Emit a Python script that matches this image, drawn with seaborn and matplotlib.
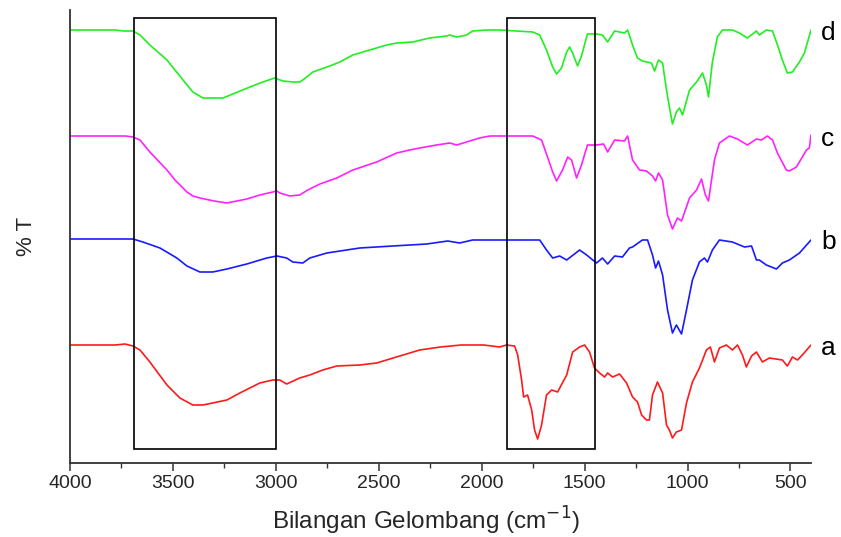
import numpy as np
import pandas as pd
import matplotlib
matplotlib.use("Agg")
import matplotlib.pyplot as plt
from matplotlib.patches import Rectangle
from matplotlib.ticker import MultipleLocator
import seaborn as sns

# ---- data (wavenumber cm-1, %T in arbitrary offset units) ----
wn_d = [4000, 3780, 3740, 3694, 3660, 3612, 3529, 3451, 3403, 3354, 3257, 3209, 3126, 3063, 3005,
        2966, 2918, 2884, 2869, 2820, 2738, 2689, 2626, 2544, 2461, 2413, 2335, 2253, 2170, 2155,
        2121, 2073, 2044, 1976, 1913, 1752, 1718, 1685, 1655, 1636, 1612, 1587, 1573, 1558, 1534,
        1515, 1486, 1442, 1413, 1388, 1354, 1306, 1291, 1267, 1243, 1219, 1175, 1160, 1141, 1121,
        1102, 1088, 1073, 1054, 1039, 1024, 990, 956, 927, 908, 898, 879, 855, 830, 782, 748, 709,
        665, 651, 617, 587, 563, 539, 515, 490, 456, 432, 400]
t_d = [440, 440, 439, 439, 435, 425, 410, 390, 378, 372, 372, 376, 383, 388, 392,
       389, 388, 388, 390, 398, 404, 408, 415, 420, 425, 427, 428, 432, 434, 435,
       433, 435, 439, 440, 440, 438, 435, 420, 403, 396, 402, 418, 423, 417, 404,
       414, 436, 436, 435, 428, 439, 437, 440, 425, 412, 409, 407, 399, 410, 407,
       380, 363, 346, 358, 362, 355, 380, 388, 397, 385, 373, 408, 433, 440, 440, 437, 432,
       439, 435, 440, 439, 425, 410, 397, 398, 408, 417, 440]

wn_c = [4000, 3730, 3694, 3660, 3612, 3529, 3490, 3451, 3432, 3403, 3369, 3300, 3238, 3141, 3078,
        3015, 2995, 2981, 2932, 2884, 2845, 2786, 2704, 2626, 2510, 2413, 2350, 2301, 2219, 2155,
        2121, 2058, 2010, 1961, 1913, 1752, 1709, 1680, 1655, 1636, 1607, 1582, 1563, 1539, 1515,
        1486, 1442, 1408, 1388, 1354, 1306, 1291, 1267, 1233, 1199, 1170, 1155, 1141, 1121, 1097,
        1073, 1049, 1029, 990, 956, 932, 913, 898, 869, 845, 796, 757, 709, 665, 641, 612, 587,
        563, 520, 505, 471, 442, 422, 408, 400]
t_c = [334, 334, 333, 330, 318, 300, 290, 282, 278, 274, 272, 269, 267, 271, 275,
       278, 279, 277, 274, 275, 280, 286, 292, 300, 308, 317, 320, 322, 325, 327,
       325, 329, 332, 334, 334, 334, 330, 313, 298, 289, 300, 313, 310, 292, 305,
       325, 325, 326, 318, 330, 329, 334, 310, 300, 299, 294, 289, 297, 290, 255,
       241, 252, 249, 272, 280, 291, 275, 269, 310, 327, 334, 331, 325, 331, 330, 334, 330,
       317, 300, 299, 303, 313, 320, 322, 335]

wn_b = [4000, 3694, 3646, 3563, 3481, 3432, 3369, 3306, 3238, 3141, 3044, 2995, 2947, 2918, 2869,
        2835, 2752, 2592, 2432, 2267, 2165, 2107, 2044, 1913, 1718, 1685, 1655, 1621, 1587, 1524,
        1490, 1442, 1413, 1388, 1354, 1316, 1282, 1267, 1219, 1194, 1170, 1155, 1141, 1121, 1097,
        1073, 1054, 1029, 1005, 976, 942, 918, 903, 879, 845, 782, 723, 689, 665, 651, 617, 568,
        539, 505, 456, 400]
t_b = [231, 231, 228, 222, 212, 204, 198, 198, 201, 206, 212, 214, 212, 208, 207,
       212, 217, 222, 224, 226, 229, 227, 230, 230, 230, 220, 212, 214, 210, 220,
       215, 207, 212, 206, 214, 213, 222, 223, 230, 230, 215, 202, 209, 195, 160,
       137, 145, 136, 160, 190, 208, 212, 208, 220, 230, 228, 223, 224, 210, 210, 205, 201,
       207, 210, 217, 230]

wn_a = [4000, 3780, 3733, 3694, 3660, 3612, 3529, 3466, 3403, 3354, 3238, 3175, 3078, 3015, 2981,
        2947, 2884, 2835, 2772, 2704, 2592, 2510, 2398, 2301, 2200, 2100, 1990, 1913, 1879, 1840,
        1825, 1806, 1796, 1777, 1757, 1743, 1728, 1709, 1685, 1660, 1631, 1587, 1558, 1524, 1500,
        1476, 1452, 1427, 1403, 1388, 1364, 1330, 1296, 1267, 1243, 1223, 1199, 1185, 1170, 1146,
        1121, 1102, 1088, 1073, 1054, 1029, 1005, 976, 942, 908, 889, 869, 845, 811, 782, 757,
        733, 714, 689, 665, 636, 602, 539, 515, 490, 466, 442, 400]
t_a = [125, 125, 126, 124, 120, 108, 85, 72, 65, 65, 70, 77, 87, 90, 90,
       86, 92, 95, 100, 104, 105, 107, 114, 120, 123, 125, 125, 123, 125, 124,
       115, 90, 73, 75, 60, 40, 31, 45, 75, 80, 78, 95, 118, 123, 125,
       118, 102, 97, 93, 97, 93, 96, 87, 73, 68, 55, 50, 50, 75, 88,
       77, 45, 40, 32, 38, 40, 67, 88, 102, 120, 123, 108, 122, 125, 120, 125,
       115, 103, 114, 118, 108, 112, 110, 104, 113, 110, 115, 125]

series_labels = ["a", "b", "c", "d"]
series_colors = ["#ff1a1a", "#1a1aff", "#ff22ff", "#22ee22"]

frames = []
for lab, w, t in zip(series_labels, [wn_a, wn_b, wn_c, wn_d], [t_a, t_b, t_c, t_d]):
    frames.append(pd.DataFrame({"wn": w, "T": t, "sample": lab}))
df = pd.concat(frames, ignore_index=True)

# ---- figure ----
sns.set_theme(style="white")
plt.rcParams["font.family"] = ["Liberation Sans", "DejaVu Sans"]

fig = plt.figure(figsize=(8.41, 5.37), dpi=100)
ax = fig.add_axes([70 / 841, (537 - 463) / 537, (811 - 70) / 841, (463 - 10) / 537])

sns.lineplot(data=df, x="wn", y="T", hue="sample", palette=dict(zip(series_labels, series_colors)),
             estimator=None, sort=True, linewidth=1.2, legend=False, ax=ax)

ax.set_xlim(4000, 400)
ax.set_ylim(7, 460)

# highlight boxes
for x0, x1 in [(3690, 3000), (1875, 1450)]:
    ax.add_patch(Rectangle((x1, 21), x0 - x1, 431, fill=False, edgecolor="black",
                           linewidth=1.2, zorder=5))

# series labels
label_y = [t_a[0], t_b[0], t_c[0], t_d[0]]
for lab, y in zip(series_labels, label_y):
    ax.text(1.014, y - 3, lab, transform=ax.get_yaxis_transform(), fontsize=19,
            ha="left", va="center", color="black")

ax.xaxis.set_major_locator(MultipleLocator(500))
ax.xaxis.set_minor_locator(MultipleLocator(250))
ax.set_yticks([])
ax.tick_params(axis="x", which="major", direction="out", length=6, width=1.1,
               labelsize=14, bottom=True, color="#333333", pad=3)
ax.tick_params(axis="x", which="minor", direction="out", length=3.5, width=1.0,
               bottom=True, color="#333333")
for s in ["top", "right"]:
    ax.spines[s].set_visible(False)
for s in ["left", "bottom"]:
    ax.spines[s].set_color("#333333")
    ax.spines[s].set_linewidth(1.3)

ax.set_xlabel("Bilangan Gelombang (cm$^{-1}$)", fontsize=17.5)
ax.xaxis.set_label_coords(0.48, -0.093)
ax.set_ylabel("% T", fontsize=16, labelpad=24)

fig.savefig("out.png", dpi=100)
